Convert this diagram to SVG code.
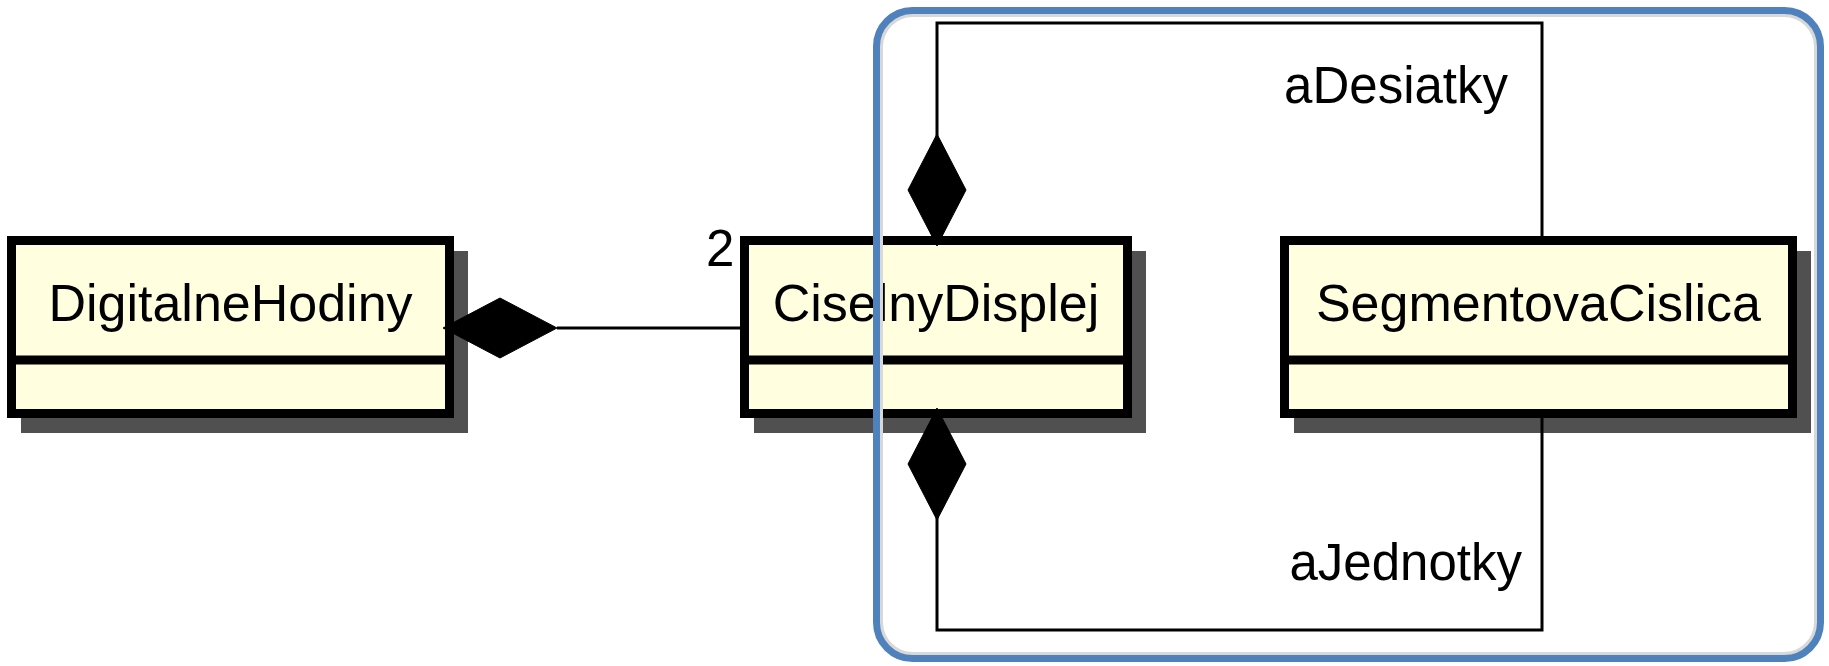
<svg xmlns="http://www.w3.org/2000/svg" width="1829" height="666" viewBox="0 0 1829 666">
<style>
.shadow{fill:#505050}
.box{fill:#FFFFE0;stroke:#000;stroke-width:9}
.div{stroke:#000;stroke-width:9}
.name{font-family:"Liberation Sans",Arial,sans-serif;font-size:52px;fill:#000;text-anchor:middle}
.lbl{font-family:"Liberation Sans",Arial,sans-serif;font-size:51px;fill:#000}
.line{fill:none;stroke:#000;stroke-width:3}
.dia{fill:#000;stroke:#000;stroke-width:1}
</style>
<rect width="1829" height="666" fill="#fff"/>
<g id="DigitalneHodiny">
  <rect class="shadow" x="21" y="251" width="447" height="182"/>
  <rect class="box" x="11.5" y="240.5" width="438" height="173"/>
  <line class="div" x1="7" y1="360" x2="454" y2="360"/>
  <text class="name" x="230.5" y="321">DigitalneHodiny</text>
</g>
<g id="CiselnyDisplej">
  <rect class="shadow" x="754" y="251" width="392" height="182"/>
  <rect class="box" x="744.5" y="240.5" width="383" height="173"/>
  <line class="div" x1="740" y1="360" x2="1132" y2="360"/>
  <text class="name" x="936" y="321">CiselnyDisplej</text>
</g>
<g id="SegmentovaCislica">
  <rect class="shadow" x="1294" y="251" width="517" height="182"/>
  <rect class="box" x="1284.5" y="240.5" width="508" height="173"/>
  <line class="div" x1="1280" y1="360" x2="1797" y2="360"/>
  <text class="name" x="1538.5" y="321">SegmentovaCislica</text>
</g>
<g id="connectors">
  <line class="line" x1="557" y1="328" x2="741" y2="328"/>
  <polygon class="dia" points="443,328 500,298 557,328 500,358"/>
  <polyline class="line" points="937,245 937,23 1542,23 1542,236"/>
  <polygon class="dia" points="937,246 908,190 937,134 966,190"/>
  <polyline class="line" points="937,409 937,630 1542,630 1542,418"/>
  <polygon class="dia" points="937,408 908,464 937,520 966,464"/>
  <text class="lbl" x="706" y="266">2</text>
  <text class="lbl" x="1508" y="103" text-anchor="end">aDesiatky</text>
  <text class="lbl" x="1522" y="580" text-anchor="end">aJednotky</text>
</g>
<g id="frame">
  <rect x="881" y="15" width="935" height="639" rx="32" fill="none" stroke="#d8d8d8" stroke-width="4"/>
  <rect x="876.5" y="10.5" width="944" height="648" rx="36" fill="none" stroke="#4F81BD" stroke-width="7"/>
</g>
</svg>
